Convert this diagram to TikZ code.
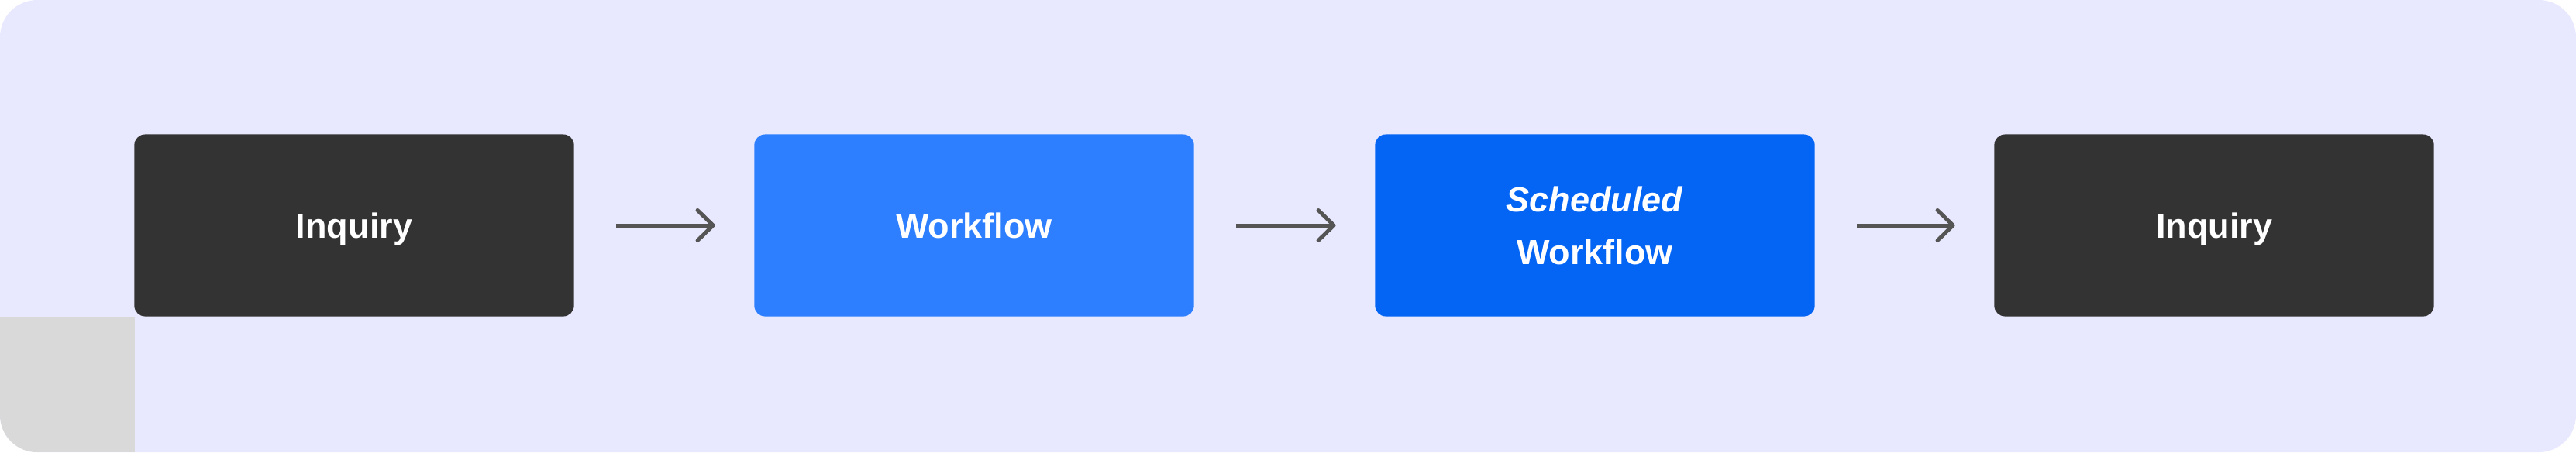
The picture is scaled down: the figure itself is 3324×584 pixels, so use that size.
\documentclass[tikz,border=0pt]{standalone}
\usepackage{fontspec}
\setmainfont{Liberation Sans}
\usetikzlibrary{arrows.meta}
\definecolor{lavender}{HTML}{E8E9FE}
\definecolor{cornergray}{HTML}{D9D9D9}
\definecolor{darkbox}{HTML}{333333}
\definecolor{lightblue}{HTML}{2D7FFF}
\definecolor{strongblue}{HTML}{0465F5}
\definecolor{arrowgray}{HTML}{555555}
\begin{document}
\begin{tikzpicture}[x=0.01cm,y=-0.01cm,
  stage node/.style={text=white,rounded corners=0.14cm,minimum width=5.67cm,minimum height=2.35cm,
    align=center,text height=9.2pt,text depth=0pt,font=\fontsize{12.8}{19.4}\selectfont\bfseries},
  flow/.style={arrowgray,line width=0.05cm,-{Straight Barb[length=0.2cm,width=0.39cm,round]},
    shorten <=0.54cm,shorten >=0.5cm}]
  % background
  \fill[lavender,rounded corners=0.48cm] (0,0) rectangle (3324,584);
  \begin{scope}
    \clip[rounded corners=0.48cm] (0,0) rectangle (3324,584);
    \fill[cornergray] (0,410) rectangle (174,584);
  \end{scope}

  \node[stage node,fill=darkbox] (inq) at (457,291) {Inquiry};
  \node[stage node,fill=lightblue] (wf) at (1257,291) {Workflow};
  \node[stage node,fill=strongblue,text height=28.6pt] (swf) at (2058,291) {\textit{Scheduled}\\Workflow};
  \node[stage node,fill=darkbox] (inq2) at (2857,291) {Inquiry};

  \draw[flow] (inq) -- (wf);
  \draw[flow] (wf) -- (swf);
  \draw[flow] (swf) -- (inq2);
\end{tikzpicture}
\end{document}
